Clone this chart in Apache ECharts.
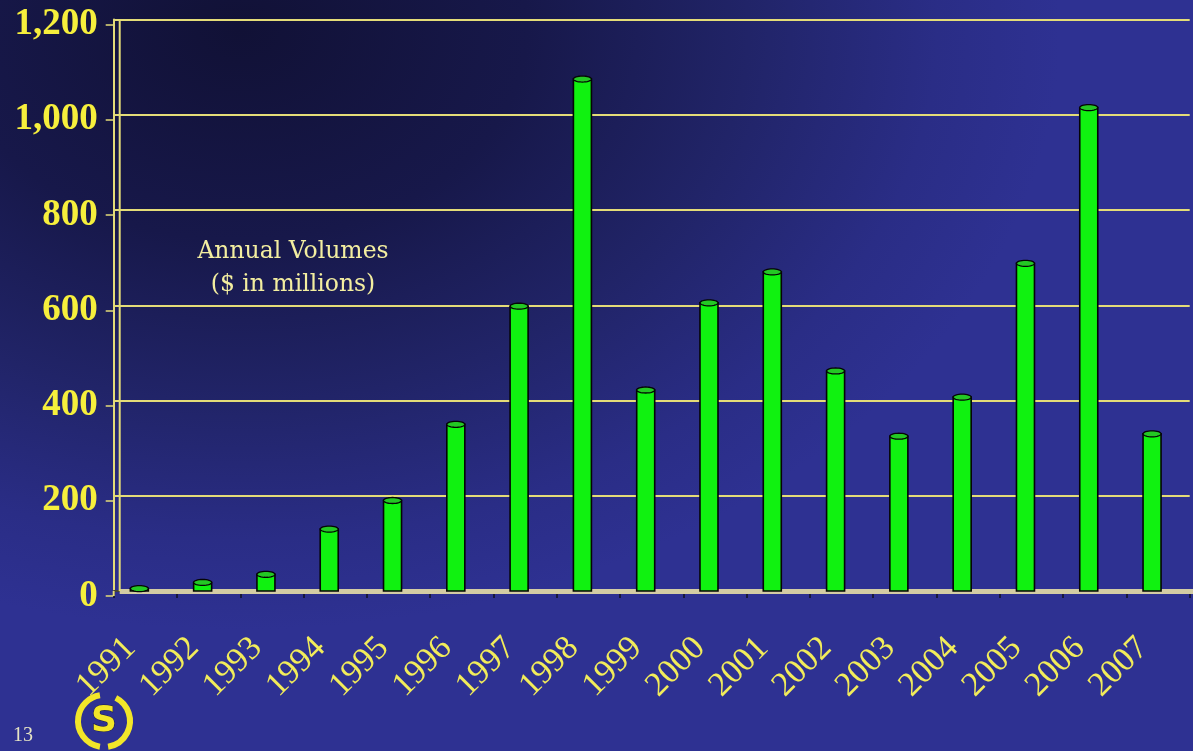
<!DOCTYPE html>
<html>
<head>
<meta charset="utf-8">
<script src="https://cdn.jsdelivr.net/npm/echarts@6/dist/echarts.min.js"></script>
<style>
  html, body { margin: 0; padding: 0; }
  #chart {
    width: 1193px; height: 751px;
    background: radial-gradient(ellipse 820px 600px at 240px 30px, #111136 0%, #17184a 35%, #212468 62%, #2a2d86 85%, #2e3192 100%);
  }
</style>
</head>
<body>
<div id="chart"></div>
<script>
// Annual volumes, $ in millions
const years = ['1991', '1992', '1993', '1994', '1995', '1996', '1997', '1998', '1999',
               '2000', '2001', '2002', '2003', '2004', '2005', '2006', '2007'];
const volumes = [5, 18, 35, 130, 190, 350, 598, 1075, 422, 605, 670, 462, 325, 407, 688, 1015, 330];
const yMin = 0;
const yMax = 1200;
const yStep = 200;

// Plot frame: the 3D back wall sits DEPTH px right of the front axis,
// value labels sit FRONT_DROP px below their gridlines (front edge of the frame)
const GRID_LEFT = 113.7;
const GRID_WIDTH = 1076;
const GRID_TOP = 19.5;
const GRID_BOTTOM = 160;
const DEPTH = 6;
const FRONT_DROP = 5;
const YEAR_SHIFT = 9;
const BAR_W = 18;

const chart = echarts.init(document.getElementById('chart'), null, { renderer: 'canvas' });

const yellow = '#f6ef3c';
const gridYellow = '#e4dc78';
const serif = '"Liberation Serif", "Times New Roman", serif';

function ellipsePoints(cx, cy, rx, ry) {
  const pts = [];
  for (let i = 0; i < 32; i++) {
    const a = (i / 32) * Math.PI * 2;
    pts.push([cx + rx * Math.cos(a), cy + ry * Math.sin(a)]);
  }
  return pts;
}

// Cylinder-like bar: body plus elliptical cap at the value
function renderCylinder(params, api) {
  const top = api.coord([api.value(0), api.value(1)]);
  const base = api.coord([api.value(0), 0]);
  const x = top[0];
  const h = Math.max(base[1] - top[1], 0);
  return {
    type: 'group',
    children: [
      {
        type: 'rect',
        shape: { x: x - BAR_W / 2, y: top[1], width: BAR_W, height: h },
        style: { fill: '#10f210', stroke: '#050505', lineWidth: 1.6 }
      },
      {
        type: 'polygon',
        shape: { points: ellipsePoints(x, top[1], BAR_W / 2, 3) },
        style: { fill: '#24c824', stroke: '#050505', lineWidth: 1.3 }
      }
    ]
  };
}

const valueAxisBase = { type: 'value', min: yMin, max: yMax, interval: yStep };
const hiddenCategory = { type: 'category', data: years, boundaryGap: true, show: false };

const option = {
  animation: false,
  backgroundColor: 'transparent',
  grid: [
    // 0: frame, ticks and gridlines
    { left: GRID_LEFT, width: GRID_WIDTH, top: GRID_TOP, bottom: GRID_BOTTOM },
    // 1: bars, drawn DEPTH px toward the back wall
    { left: GRID_LEFT - DEPTH, width: GRID_WIDTH, top: GRID_TOP, bottom: GRID_BOTTOM },
    // 2: value labels on the front edge
    { left: GRID_LEFT, width: GRID_WIDTH, top: GRID_TOP + FRONT_DROP, bottom: GRID_BOTTOM - FRONT_DROP },
    // 3: slanted year labels
    { left: GRID_LEFT - DEPTH - YEAR_SHIFT, width: GRID_WIDTH, top: GRID_TOP, bottom: GRID_BOTTOM }
  ],
  xAxis: [
    {
      gridIndex: 0,
      type: 'category',
      data: years,
      boundaryGap: true,
      offset: 4,
      axisLine: { show: true, lineStyle: { color: '#101020', width: 1.5 } },
      axisTick: { show: true, length: 7, lineStyle: { color: '#101020', width: 1.5 } },
      axisLabel: { show: false },
      splitLine: { show: false }
    },
    Object.assign({ gridIndex: 1 }, hiddenCategory),
    Object.assign({ gridIndex: 2 }, hiddenCategory),
    {
      gridIndex: 3,
      type: 'category',
      data: years,
      boundaryGap: true,
      axisLine: { show: false },
      axisTick: { show: false },
      axisLabel: {
        show: true,
        interval: 0,
        rotate: 45,
        margin: 52,
        color: '#f2ec5a',
        fontFamily: serif,
        fontSize: 34
      },
      splitLine: { show: false }
    }
  ],
  yAxis: [
    Object.assign({
      gridIndex: 0,
      axisLine: { show: true, lineStyle: { color: gridYellow, width: 2 } },
      axisTick: { show: false },
      axisLabel: { show: false },
      splitLine: { show: true, lineStyle: { color: gridYellow, width: 2 } }
    }, valueAxisBase),
    Object.assign({ gridIndex: 1, show: false }, valueAxisBase),
    Object.assign({
      gridIndex: 2,
      axisLine: { show: false },
      axisTick: { show: true, length: 8, lineStyle: { color: gridYellow, width: 1.5 } },
      axisLabel: {
        show: true,
        margin: 16,
        color: yellow,
        fontFamily: serif,
        fontWeight: 'bold',
        fontSize: 37,
        formatter: v => v.toLocaleString('en-US')
      },
      splitLine: { show: false }
    }, valueAxisBase),
    Object.assign({ gridIndex: 3, show: false }, valueAxisBase)
  ],
  series: [
    {
      type: 'custom',
      xAxisIndex: 1,
      yAxisIndex: 1,
      data: years.map((y, i) => [i, volumes[i]]),
      renderItem: renderCylinder,
      z: 5
    }
  ]
};

chart.setOption(option);

// Decorations: floor band, back wall, caption, page number and logo
const floorY = chart.convertToPixel({ yAxisIndex: 0 }, 0);
const topY = chart.convertToPixel({ yAxisIndex: 0 }, yMax);
const wallX = GRID_LEFT + DEPTH;

chart.setOption({
  graphic: [
    {
      type: 'rect',
      z: 3,
      shape: { x: wallX, y: floorY - 2, width: 1193 - wallX, height: 5 },
      style: { fill: '#d3cca4' }
    },
    {
      type: 'line',
      z: 3,
      shape: { x1: wallX, y1: topY, x2: wallX, y2: floorY },
      style: { stroke: gridYellow, lineWidth: 2 }
    },
    {
      type: 'line',
      z: 3,
      shape: { x1: GRID_LEFT, y1: floorY, x2: GRID_LEFT, y2: floorY + FRONT_DROP },
      style: { stroke: gridYellow, lineWidth: 2 }
    },
    {
      type: 'text',
      z: 6,
      x: 293, y: 268,
      style: {
        text: 'Annual Volumes\n($ in millions)',
        align: 'center',
        verticalAlign: 'middle',
        fill: '#f3eea0',
        font: '23.5px "DejaVu Serif", serif',
        lineHeight: 33
      }
    },
    {
      type: 'text',
      z: 6,
      x: 13, y: 736,
      style: {
        text: '13',
        verticalAlign: 'middle',
        fill: '#e6e4c4',
        font: '20px "Liberation Serif", serif'
      }
    },
    {
      type: 'arc',
      z: 6,
      shape: { cx: 104, cy: 721, r: 26, startAngle: Math.PI * 0.55, endAngle: Math.PI * 1.45 },
      style: { stroke: '#f2e629', lineWidth: 6, fill: null }
    },
    {
      type: 'arc',
      z: 6,
      shape: { cx: 104, cy: 721, r: 26, startAngle: Math.PI * 1.65, endAngle: Math.PI * 2.45 },
      style: { stroke: '#f2e629', lineWidth: 6, fill: null }
    },
    {
      type: 'text',
      z: 6,
      x: 104, y: 722,
      style: {
        text: 'S',
        align: 'center',
        verticalAlign: 'middle',
        fill: '#f2e629',
        stroke: '#1a1a40',
        lineWidth: 1,
        font: 'bold 36px "DejaVu Sans", sans-serif'
      }
    }
  ]
});
</script>
</body>
</html>
